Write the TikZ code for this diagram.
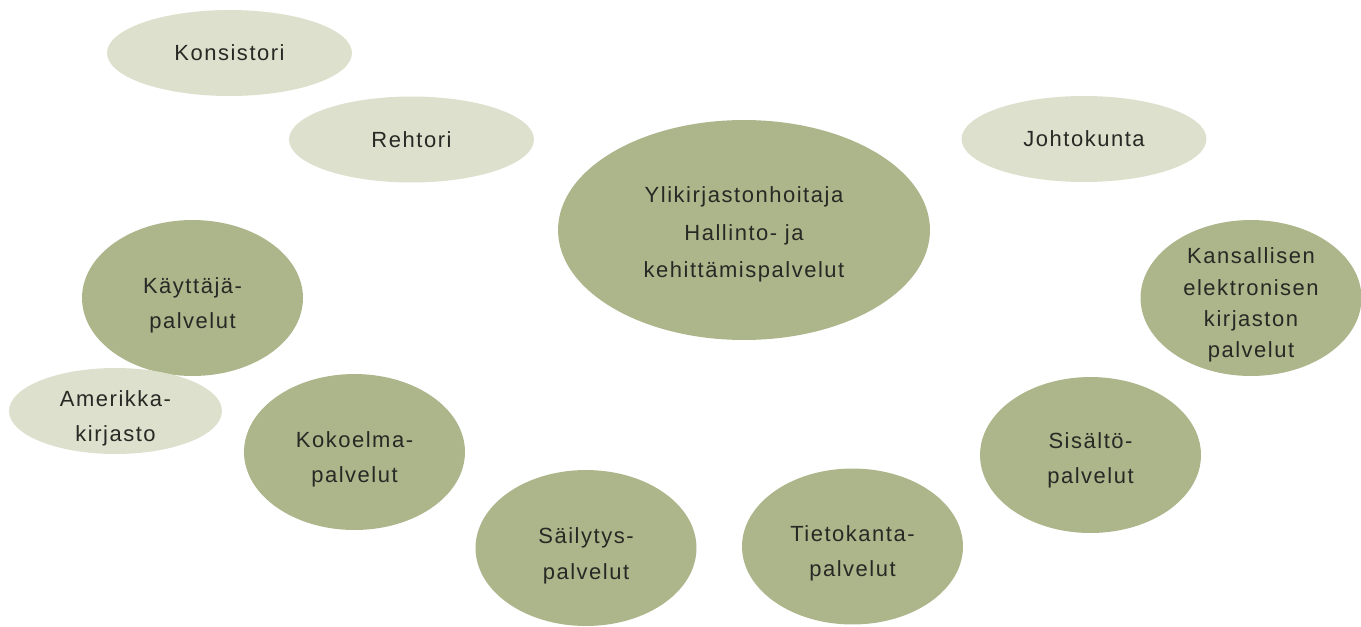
\documentclass[tikz,border=0pt]{standalone}
\usepackage{fontspec}
\usepackage{xcolor}
\usepackage{tikz}
\usetikzlibrary{shapes.geometric}
\newfontfamily\ovalfont{Liberation Sans}[LetterSpace=7]
\definecolor{ovaldark}{RGB}{173,181,139}
\definecolor{ovallight}{RGB}{221,224,204}
\definecolor{ovaltext}{RGB}{40,40,36}
\newcommand{\liftby}[1]{\rule{0pt}{#1}}

\begin{document}
\begin{tikzpicture}[x=0.02cm,y=-0.02cm,
  oval/.style={ellipse,inner sep=0pt,align=center,text=ovaltext,
               font=\ovalfont\fontsize{12.5}{20}\selectfont},
  lightoval/.style={oval,fill=ovallight,minimum width=4.9cm,minimum height=1.72cm},
  darkoval/.style={oval,fill=ovaldark,minimum width=4.42cm,minimum height=3.12cm}
]
  \useasboundingbox (0,0) rectangle (1361,626);
  % governance
  \node[lightoval] (konsistori) at (229.5,53) {Konsistori};
  \node[lightoval] (rehtori) at (411.5,139.5) {Rehtori};
  \node[lightoval] (johtokunta) at (1084,139) {Johtokunta};
  \node[oval,fill=ovaldark,minimum width=7.44cm,minimum height=4.4cm,
        font=\ovalfont\fontsize{12.5}{21.6}\selectfont] (yli) at (744,230)
        {\liftby{14pt}Ylikirjastonhoitaja\\Hallinto- ja\\kehittämispalvelut};
  % service units
  \node[darkoval] (kayttaja) at (192.5,298) {\liftby{17pt}Käyttäjä-\\palvelut};
  \node[lightoval,minimum width=4.26cm,inner ysep=-5pt] (amerikka) at (115.5,411)
        {\liftby{17pt}Amerikka-\\kirjasto};
  \node[darkoval] (kokoelma) at (354.5,452) {\liftby{17pt}Kokoelma-\\palvelut};
  \node[darkoval] (sailytys) at (586,548) {\liftby{18pt}Säilytys-\\palvelut};
  \node[darkoval] (tietokanta) at (852.5,546.5) {\liftby{17pt}Tietokanta-\\palvelut};
  \node[darkoval] (sisalto) at (1090.5,455) {\liftby{15pt}Sisältö-\\palvelut};
  \node[darkoval,inner ysep=-7pt,font=\ovalfont\fontsize{12.5}{17.8}\selectfont] (kansallinen)
        at (1251,298) {\liftby{17pt}Kansallisen\\elektronisen\\kirjaston\\palvelut};
\end{tikzpicture}
\end{document}
